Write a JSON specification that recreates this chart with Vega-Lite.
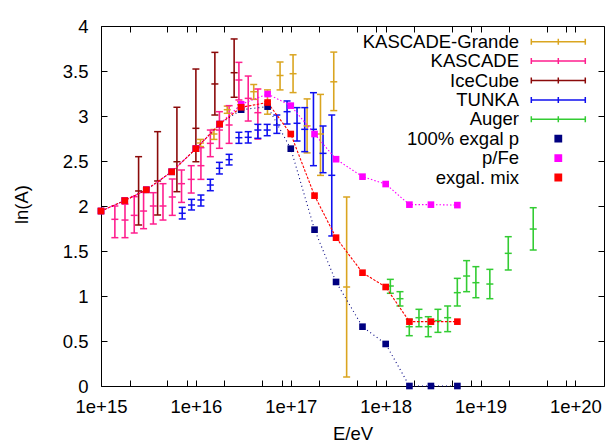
{
 "$schema": "https://vega.github.io/schema/vega-lite/v6.json",
 "width": 503,
 "height": 360,
 "autosize": {"type": "none"},
 "padding": {"left": 101, "top": 26, "right": 11, "bottom": 58},
 "background": "white",
 "config": {
  "font": "Liberation Sans",
  "view": {"stroke": "#000000", "strokeWidth": 1},
  "axis": {"domain": false, "grid": false, "tickColor": "#000000", "tickWidth": 1, "labelColor": "#000000", "labelFont": "Liberation Sans", "labelFontSize": 18.5, "titleFont": "Liberation Sans", "titleFontSize": 18.5, "titleFontWeight": "normal", "titleColor": "#000000", "labelFlush": false, "labelOverlap": false},
  "legend": {"labelFont": "Liberation Sans", "labelFontSize": 18.5, "labelColor": "#000000"}
 },
 "datasets": {
  "bars": [
   {"s": "KASCADE-Grande", "E": 1.12e16, "lo": 2.66, "v": 2.70, "hi": 2.74},
   {"s": "KASCADE-Grande", "E": 1.55e16, "lo": 2.74, "v": 2.80, "hi": 2.85},
   {"s": "KASCADE-Grande", "E": 2.14e16, "lo": 3.03, "v": 3.07, "hi": 3.11},
   {"s": "KASCADE-Grande", "E": 2.95e16, "lo": 3.09, "v": 3.125, "hi": 3.16},
   {"s": "KASCADE-Grande", "E": 4.07e16, "lo": 3.185, "v": 3.27, "hi": 3.35},
   {"s": "KASCADE-Grande", "E": 5.68e16, "lo": 3.02, "v": 3.16, "hi": 3.29},
   {"s": "KASCADE-Grande", "E": 7.71e16, "lo": 3.29, "v": 3.45, "hi": 3.60},
   {"s": "KASCADE-Grande", "E": 1.057e17, "lo": 3.26, "v": 3.47, "hi": 3.68},
   {"s": "KASCADE-Grande", "E": 1.486e17, "lo": 2.59, "v": 2.89, "hi": 3.19},
   {"s": "KASCADE-Grande", "E": 2.056e17, "lo": 2.34, "v": 2.80, "hi": 3.24},
   {"s": "KASCADE-Grande", "E": 2.838e17, "lo": 3.06, "v": 3.38, "hi": 3.71},
   {"s": "KASCADE-Grande", "E": 3.88e17, "lo": 0.10, "v": 1.10, "hi": 2.10},
   {"s": "KASCADE", "E": 1.40e15, "lo": 1.648, "v": 1.852, "hi": 2.0},
   {"s": "KASCADE", "E": 1.79e15, "lo": 1.648, "v": 1.844, "hi": 2.02},
   {"s": "KASCADE", "E": 2.24e15, "lo": 1.70, "v": 1.896, "hi": 2.104},
   {"s": "KASCADE", "E": 2.81e15, "lo": 1.748, "v": 1.944, "hi": 2.152},
   {"s": "KASCADE", "E": 3.56e15, "lo": 1.80, "v": 2.0, "hi": 2.148},
   {"s": "KASCADE", "E": 4.50e15, "lo": 1.844, "v": 2.0, "hi": 2.248},
   {"s": "KASCADE", "E": 5.64e15, "lo": 1.896, "v": 2.10, "hi": 2.30},
   {"s": "KASCADE", "E": 7.06e15, "lo": 2.04, "v": 2.248, "hi": 2.40},
   {"s": "KASCADE", "E": 8.93e15, "lo": 2.144, "v": 2.296, "hi": 2.448},
   {"s": "KASCADE", "E": 1.13e16, "lo": 2.296, "v": 2.448, "hi": 2.648},
   {"s": "KASCADE", "E": 1.42e16, "lo": 2.548, "v": 2.696, "hi": 2.844},
   {"s": "KASCADE", "E": 1.77e16, "lo": 2.641, "v": 2.844, "hi": 3.048},
   {"s": "KASCADE", "E": 2.24e16, "lo": 2.696, "v": 2.90, "hi": 3.115},
   {"s": "KASCADE", "E": 2.84e16, "lo": 3.178, "v": 3.40, "hi": 3.596},
   {"s": "KASCADE", "E": 3.56e16, "lo": 2.944, "v": 3.196, "hi": 3.444},
   {"s": "KASCADE", "E": 4.50e16, "lo": 2.744, "v": 3.037, "hi": 3.30},
   {"s": "IceCube", "E": 2.49e15, "lo": 1.789, "v": 2.167, "hi": 2.548},
   {"s": "IceCube", "E": 3.95e15, "lo": 1.90, "v": 2.278, "hi": 2.826},
   {"s": "IceCube", "E": 6.31e15, "lo": 2.159, "v": 2.492, "hi": 3.097},
   {"s": "IceCube", "E": 1.0e16, "lo": 2.492, "v": 2.863, "hi": 3.522},
   {"s": "IceCube", "E": 1.585e16, "lo": 3.011, "v": 3.356, "hi": 3.707},
   {"s": "IceCube", "E": 2.53e16, "lo": 3.208, "v": 3.481, "hi": 3.856},
   {"s": "TUNKA", "E": 7.18e15, "lo": 1.856, "v": 1.919, "hi": 1.985},
   {"s": "TUNKA", "E": 9.0e15, "lo": 1.956, "v": 2.011, "hi": 2.074},
   {"s": "TUNKA", "E": 1.13e16, "lo": 2.0, "v": 2.067, "hi": 2.122},
   {"s": "TUNKA", "E": 1.42e16, "lo": 2.17, "v": 2.233, "hi": 2.297},
   {"s": "TUNKA", "E": 1.77e16, "lo": 2.356, "v": 2.419, "hi": 2.485},
   {"s": "TUNKA", "E": 2.24e16, "lo": 2.456, "v": 2.515, "hi": 2.574},
   {"s": "TUNKA", "E": 2.84e16, "lo": 2.696, "v": 2.759, "hi": 2.819},
   {"s": "TUNKA", "E": 3.56e16, "lo": 2.70, "v": 2.763, "hi": 2.826},
   {"s": "TUNKA", "E": 4.50e16, "lo": 2.752, "v": 2.844, "hi": 2.907},
   {"s": "TUNKA", "E": 5.64e16, "lo": 2.781, "v": 2.844, "hi": 2.907},
   {"s": "TUNKA", "E": 7.13e16, "lo": 2.807, "v": 2.90, "hi": 3.011},
   {"s": "TUNKA", "E": 9.14e16, "lo": 2.911, "v": 3.048, "hi": 3.167},
   {"s": "TUNKA", "E": 1.164e17, "lo": 2.722, "v": 2.919, "hi": 3.093},
   {"s": "TUNKA", "E": 1.403e17, "lo": 2.604, "v": 2.852, "hi": 3.093},
   {"s": "TUNKA", "E": 1.734e17, "lo": 2.448, "v": 2.852, "hi": 3.259},
   {"s": "TUNKA", "E": 2.188e17, "lo": 2.37, "v": 2.585, "hi": 2.889},
   {"s": "TUNKA", "E": 2.704e17, "lo": 1.667, "v": 2.341, "hi": 3.011},
   {"s": "Auger", "E": 1.12e18, "lo": 1.03, "v": 1.111, "hi": 1.185},
   {"s": "Auger", "E": 1.416e18, "lo": 0.889, "v": 0.97, "hi": 1.048},
   {"s": "Auger", "E": 1.774e18, "lo": 0.559, "v": 0.659, "hi": 0.741},
   {"s": "Auger", "E": 2.244e18, "lo": 0.659, "v": 0.759, "hi": 0.852},
   {"s": "Auger", "E": 2.812e18, "lo": 0.548, "v": 0.659, "hi": 0.77},
   {"s": "Auger", "E": 3.556e18, "lo": 0.596, "v": 0.726, "hi": 0.852},
   {"s": "Auger", "E": 4.50e18, "lo": 0.604, "v": 0.759, "hi": 0.889},
   {"s": "Auger", "E": 5.69e18, "lo": 0.889, "v": 1.037, "hi": 1.196},
   {"s": "Auger", "E": 7.13e18, "lo": 1.048, "v": 1.222, "hi": 1.393},
   {"s": "Auger", "E": 8.93e18, "lo": 0.981, "v": 1.148, "hi": 1.326},
   {"s": "Auger", "E": 1.253e19, "lo": 0.97, "v": 1.133, "hi": 1.296},
   {"s": "Auger", "E": 1.959e19, "lo": 1.289, "v": 1.474, "hi": 1.659},
   {"s": "Auger", "E": 3.59e19, "lo": 1.511, "v": 1.744, "hi": 1.981}
  ],
  "models": [
   {"s": "100% exgal p", "E": 1e15, "lnA": 1.944},
   {"s": "100% exgal p", "E": 1.78e15, "lnA": 2.06},
   {"s": "100% exgal p", "E": 3.0e15, "lnA": 2.18},
   {"s": "100% exgal p", "E": 5.56e15, "lnA": 2.38},
   {"s": "100% exgal p", "E": 1e16, "lnA": 2.637},
   {"s": "100% exgal p", "E": 1.78e16, "lnA": 2.91},
   {"s": "100% exgal p", "E": 3.0e16, "lnA": 3.07},
   {"s": "100% exgal p", "E": 5.7e16, "lnA": 3.104},
   {"s": "100% exgal p", "E": 1e17, "lnA": 2.637},
   {"s": "100% exgal p", "E": 1.78e17, "lnA": 1.737},
   {"s": "100% exgal p", "E": 3.0e17, "lnA": 1.156},
   {"s": "100% exgal p", "E": 5.7e17, "lnA": 0.659},
   {"s": "100% exgal p", "E": 1e18, "lnA": 0.467},
   {"s": "100% exgal p", "E": 1.78e18, "lnA": 0},
   {"s": "100% exgal p", "E": 3.0e18, "lnA": 0},
   {"s": "100% exgal p", "E": 5.7e18, "lnA": 0},
   {"s": "p/Fe", "E": 1e15, "lnA": 1.944},
   {"s": "p/Fe", "E": 1.78e15, "lnA": 2.06},
   {"s": "p/Fe", "E": 3.0e15, "lnA": 2.18},
   {"s": "p/Fe", "E": 5.56e15, "lnA": 2.38},
   {"s": "p/Fe", "E": 1e16, "lnA": 2.637},
   {"s": "p/Fe", "E": 1.78e16, "lnA": 2.91},
   {"s": "p/Fe", "E": 3.0e16, "lnA": 3.13},
   {"s": "p/Fe", "E": 5.7e16, "lnA": 3.244},
   {"s": "p/Fe", "E": 1e17, "lnA": 3.115},
   {"s": "p/Fe", "E": 1.78e17, "lnA": 2.80},
   {"s": "p/Fe", "E": 3.0e17, "lnA": 2.52},
   {"s": "p/Fe", "E": 5.7e17, "lnA": 2.326},
   {"s": "p/Fe", "E": 1e18, "lnA": 2.244},
   {"s": "p/Fe", "E": 1.78e18, "lnA": 2.015},
   {"s": "p/Fe", "E": 3.0e18, "lnA": 2.015},
   {"s": "p/Fe", "E": 5.7e18, "lnA": 2.01},
   {"s": "exgal. mix", "E": 1e15, "lnA": 1.944},
   {"s": "exgal. mix", "E": 1.78e15, "lnA": 2.06},
   {"s": "exgal. mix", "E": 3.0e15, "lnA": 2.18},
   {"s": "exgal. mix", "E": 5.56e15, "lnA": 2.38},
   {"s": "exgal. mix", "E": 1e16, "lnA": 2.637},
   {"s": "exgal. mix", "E": 1.78e16, "lnA": 2.91},
   {"s": "exgal. mix", "E": 3.0e16, "lnA": 3.097},
   {"s": "exgal. mix", "E": 5.7e16, "lnA": 3.15},
   {"s": "exgal. mix", "E": 1e17, "lnA": 2.80},
   {"s": "exgal. mix", "E": 1.78e17, "lnA": 2.115},
   {"s": "exgal. mix", "E": 3.0e17, "lnA": 1.648},
   {"s": "exgal. mix", "E": 5.7e17, "lnA": 1.259},
   {"s": "exgal. mix", "E": 1e18, "lnA": 1.10},
   {"s": "exgal. mix", "E": 1.78e18, "lnA": 0.715},
   {"s": "exgal. mix", "E": 3.0e18, "lnA": 0.715},
   {"s": "exgal. mix", "E": 5.7e18, "lnA": 0.715}
  ]
 },
 "layer": [
  {
   "data": {"name": "bars"},
   "mark": {"type": "rule", "strokeWidth": 1.6},
   "encoding": {
    "x": {"field": "E", "type": "quantitative",
     "scale": {"type": "log", "domain": [1e15, 2e20], "nice": false},
     "axis": {"orient": "bottom", "values": [1e15, 2e15, 5e15, 8e15, 1e16, 2e16, 5e16, 8e16, 1e17, 2e17, 5e17, 8e17, 1e18, 2e18, 5e18, 8e18, 1e19, 2e19, 5e19, 8e19, 1e20],
      "tickSize": -6, "labelPadding": 17.4,
      "labelExpr": "abs(log(datum.value)/LN10 - round(log(datum.value)/LN10)) < 0.01 ? '1e+' + round(log(datum.value)/LN10) : ''",
      "title": "E/eV", "titleBaseline": "alphabetic", "titleX": 251.5, "titleY": 53.5,
      "encode": {"ticks": {"update": {"y2": {"signal": "abs(log(datum.value)/LN10 - round(log(datum.value)/LN10)) < 0.01 ? -6 : -3"}}}}
     }},
    "y": {"field": "lo", "type": "quantitative",
     "scale": {"domain": [0, 4], "nice": false, "zero": false},
     "axis": {"orient": "left", "values": [0, 0.5, 1, 1.5, 2, 2.5, 3, 3.5, 4], "tickSize": -6, "labelPadding": 19, "format": "~g",
      "title": "ln(A)", "titleAngle": -90, "titleAlign": "center", "titleBaseline": "alphabetic", "titleX": -74, "titleY": 178}},
    "y2": {"field": "hi"},
    "color": {"field": "s", "type": "nominal",
     "scale": {"domain": ["KASCADE-Grande", "KASCADE", "IceCube", "TUNKA", "Auger", "100% exgal p", "p/Fe", "exgal. mix"],
      "range": ["#daa520", "#ff1f8f", "#8b0a0a", "#1010f0", "#33cc33", "#000080", "#ff00ff", "#ff0000"]},
     "legend": {"orient": "none", "legendX": 447.8, "legendY": 6.2, "direction": "vertical", "padding": 0, "rowPadding": 0.4, "title": null,
      "labelAlign": "right", "labelOffset": -48.8, "labelLimit": 0, "labelFontSize": 18.5,
      "symbolSize": 306, "symbolStrokeWidth": 1.5,
      "symbolType": "M-3.087,0H3.087M-3.087,-0.343V0.343M3.087,-0.343V0.343M0,-0.343V0.343",
      "encode": {"symbols": {"update": {
       "shape": {"signal": "indexof(['100% exgal p','p/Fe','exgal. mix'], datum.value) >= 0 ? 'M-0.36,-0.36H0.36V0.36H-0.36Z' : 'M-3.087,0H3.087M-3.087,-0.343V0.343M3.087,-0.343V0.343M0,-0.343V0.343'"},
       "fill": {"signal": "indexof(['100% exgal p','p/Fe','exgal. mix'], datum.value) >= 0 ? scale('color', datum.value) : 'transparent'"},
       "stroke": {"signal": "indexof(['100% exgal p','p/Fe','exgal. mix'], datum.value) >= 0 ? 'transparent' : scale('color', datum.value)"},
       "opacity": {"value": 1}
      }}}
     }}
   }
  },
  {
   "data": {"name": "bars"},
   "transform": [{"fold": ["lo", "v", "hi"], "as": ["k", "val"]}],
   "mark": {"type": "point", "shape": "M-1,0H1", "size": 49, "filled": false, "strokeWidth": 1.5, "opacity": 1},
   "encoding": {
    "x": {"field": "E", "type": "quantitative", "scale": {"type": "log", "domain": [1e15, 2e20], "nice": false}, "axis": null},
    "y": {"field": "val", "type": "quantitative", "scale": {"domain": [0, 4], "nice": false, "zero": false}, "axis": null},
    "color": {"field": "s", "type": "nominal",
     "scale": {"domain": ["KASCADE-Grande", "KASCADE", "IceCube", "TUNKA", "Auger", "100% exgal p", "p/Fe", "exgal. mix"],
      "range": ["#daa520", "#ff1f8f", "#8b0a0a", "#1010f0", "#33cc33", "#000080", "#ff00ff", "#ff0000"]}}
   }
  },
  {
   "data": {"name": "models"},
   "mark": {"type": "line", "strokeWidth": 1.1},
   "encoding": {
    "x": {"field": "E", "type": "quantitative", "scale": {"type": "log", "domain": [1e15, 2e20], "nice": false},
     "axis": {"orient": "top", "values": [1e15, 2e15, 5e15, 8e15, 1e16, 2e16, 5e16, 8e16, 1e17, 2e17, 5e17, 8e17, 1e18, 2e18, 5e18, 8e18, 1e19, 2e19, 5e19, 8e19, 1e20],
      "tickSize": -6, "labels": false, "title": null,
      "encode": {"ticks": {"update": {"y2": {"signal": "abs(log(datum.value)/LN10 - round(log(datum.value)/LN10)) < 0.01 ? 6 : 3"}}}}}},
    "y": {"field": "lnA", "type": "quantitative", "scale": {"domain": [0, 4], "nice": false, "zero": false},
     "axis": {"orient": "right", "values": [0, 0.5, 1, 1.5, 2, 2.5, 3, 3.5, 4], "tickSize": -6, "labels": false, "title": null}},
    "color": {"field": "s", "type": "nominal",
     "scale": {"domain": ["KASCADE-Grande", "KASCADE", "IceCube", "TUNKA", "Auger", "100% exgal p", "p/Fe", "exgal. mix"],
      "range": ["#daa520", "#ff1f8f", "#8b0a0a", "#1010f0", "#33cc33", "#000080", "#ff00ff", "#ff0000"]}},
    "strokeDash": {"field": "s", "type": "nominal",
     "scale": {"domain": ["100% exgal p", "p/Fe", "exgal. mix"], "range": [[1, 3], [1.5, 2], [2.5, 1.5]]}, "legend": null}
   }
  },
  {
   "data": {"name": "models"},
   "mark": {"type": "point", "shape": "square", "filled": true, "size": 44, "opacity": 1},
   "encoding": {
    "x": {"field": "E", "type": "quantitative", "scale": {"type": "log", "domain": [1e15, 2e20], "nice": false}, "axis": null},
    "y": {"field": "lnA", "type": "quantitative", "scale": {"domain": [0, 4], "nice": false, "zero": false}, "axis": null},
    "color": {"field": "s", "type": "nominal",
     "scale": {"domain": ["KASCADE-Grande", "KASCADE", "IceCube", "TUNKA", "Auger", "100% exgal p", "p/Fe", "exgal. mix"],
      "range": ["#daa520", "#ff1f8f", "#8b0a0a", "#1010f0", "#33cc33", "#000080", "#ff00ff", "#ff0000"]}}
   }
  }
 ],
 "resolve": {"axis": {"x": "independent", "y": "independent"}}
}
